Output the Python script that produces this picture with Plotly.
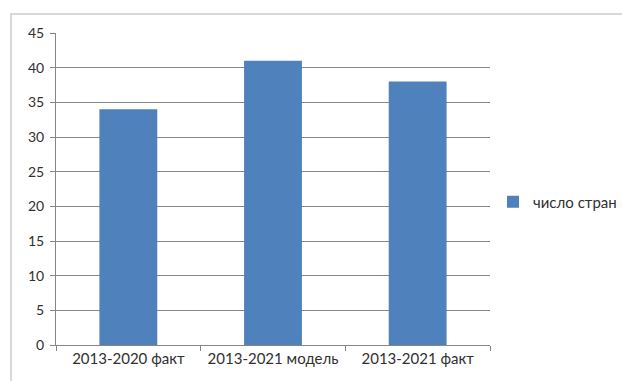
import plotly.graph_objects as go

categories = ["2013-2020 факт", "2013-2021 модель", "2013-2021 факт"]
values = [34, 41, 38]
series_name = "число стран"
y_ticks = [0, 5, 10, 15, 20, 25, 30, 35, 40, 45]

L, R, T, B = 56, 490, 33, 345
W, H = 622, 381
pw, ph = R - L, B - T

def px(x):
    return (x - L) / pw

def py(y):
    return (B - y) / ph

fig = go.Figure()
fig.add_trace(go.Bar(
    x=categories, y=values, name=series_name,
    marker=dict(color="#4F81BD", line=dict(width=0)),
    showlegend=True,
))

font = "Lato, 'Open Sans', sans-serif"
fig.update_layout(
    width=W, height=H,
    margin=dict(l=L, r=W - R, t=T, b=H - B, pad=0, autoexpand=False),
    paper_bgcolor="white", plot_bgcolor="white",
    bargap=0.6,
    font=dict(family=font, size=15, color="#303030"),
    showlegend=True,
    legend=dict(x=px(493), y=py(202), xanchor="left", yanchor="middle",
                font=dict(size=15, color="#303030"), itemwidth=30,
                bgcolor="rgba(0,0,0,0)"),
    xaxis=dict(showline=True, linecolor="#868686", linewidth=1,
               ticks="outside", tickson="boundaries", ticklen=5,
               tickcolor="#868686", showgrid=False,
               tickfont=dict(size=15)),
    yaxis=dict(range=[0, 45], tickvals=y_ticks, showline=True,
               linecolor="#868686", linewidth=1,
               ticks="outside", ticklen=5, tickcolor="#868686",
               showgrid=True, gridcolor="#868686", gridwidth=1,
               zeroline=False, tickfont=dict(size=14), ticklabelstandoff=3),
    shapes=[dict(type="rect", xref="paper", yref="paper",
                 x0=px(11), x1=px(700), y0=py(400), y1=py(14),
                 line=dict(color="#D9D9D9", width=2), layer="below")],
)

fig.write_html("out.html")
